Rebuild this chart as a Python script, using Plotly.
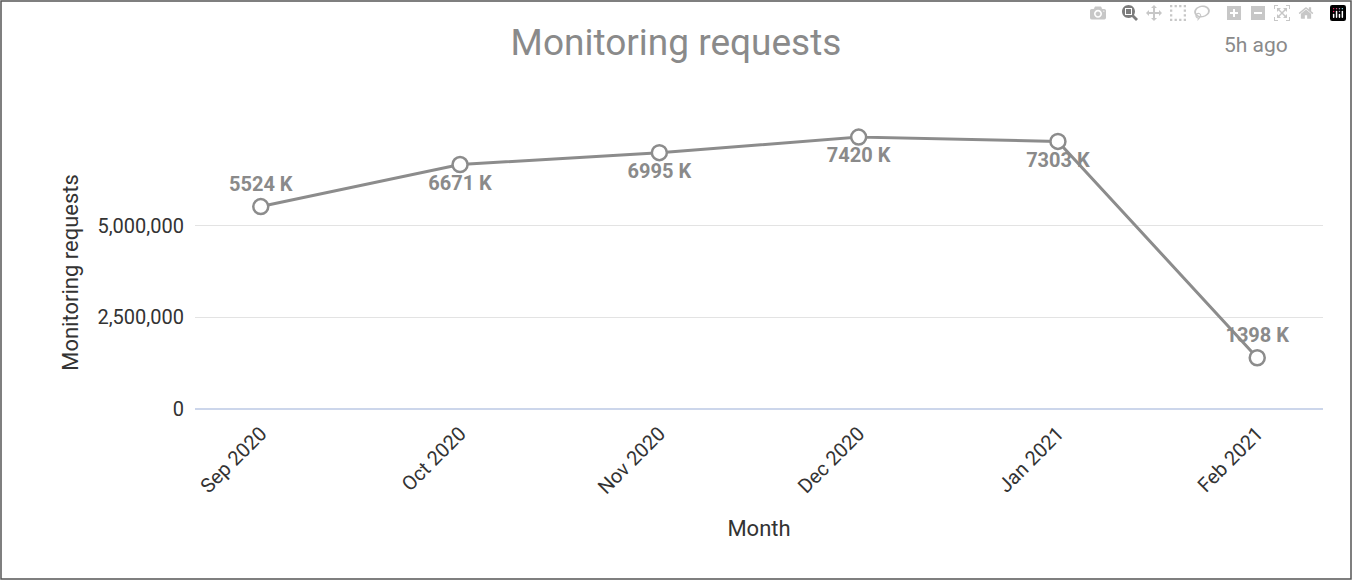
import plotly.graph_objects as go

months = ["Sep 2020", "Oct 2020", "Nov 2020", "Dec 2020", "Jan 2021", "Feb 2021"]
requests = [5524000, 6671000, 6995000, 7420000, 7303000, 1398000]
labels = ["5524 K", "6671 K", "6995 K", "7420 K", "7303 K", "1398 K"]
positions = ["top center", "bottom center", "bottom center", "bottom center", "bottom center", "top center"]

fig = go.Figure(go.Scatter(
    x=months, y=requests, mode="lines+markers+text",
    text=labels, textposition=positions,
    textfont=dict(family="Roboto", size=20, color="#8a8a8a", weight="bold"),
    line=dict(color="#8c8c8c", width=3),
    marker=dict(size=15, color="white", line=dict(color="#8c8c8c", width=2.5)),
    cliponaxis=False, hoverinfo="skip"))

fig.update_layout(
    width=1352, height=580, paper_bgcolor="white", plot_bgcolor="white",
    margin=dict(l=195, r=29, t=136, b=171),
    font=dict(family="Roboto", color="#333"),
    title=dict(text="Monitoring requests", x=0.5, xanchor="center", y=0.927, yanchor="middle",
               font=dict(size=37, color="#8a8a8a")),
    showlegend=False,
    xaxis=dict(type="category", tickangle=-45, tickfont=dict(size=20, color="#333"),
               title=dict(text="Month", font=dict(size=22, color="#333"), standoff=22),
               showgrid=False, showline=False, ticks="", ticklabelstandoff=8),
    yaxis=dict(range=[0, 7450000], tickvals=[0, 2500000, 5000000], tickformat=",d",
               tickfont=dict(size=20, color="#333"),
               title=dict(text="Monitoring requests", font=dict(size=22, color="#333"), standoff=12),
               gridcolor="#e3e3e3", zeroline=True, zerolinecolor="#ccd6eb", zerolinewidth=1.5,
               ticklabelstandoff=10),
    annotations=[dict(text="5h ago", xref="paper", yref="paper", x=1061/1128, y=1+(136-45)/273,
                      xanchor="center", yanchor="middle", showarrow=False,
                      font=dict(size=21, color="#8a8a8a"))],
    shapes=[dict(type="rect", xref="paper", yref="paper", x0=-194/1128, x1=1+28/1128,
                 y0=-170/273, y1=1+135/273, line=dict(color="#555", width=1.5))],
)
fig.write_html("out.html", post_script="document.body.style.margin='0';document.body.style.overflow='hidden';")
